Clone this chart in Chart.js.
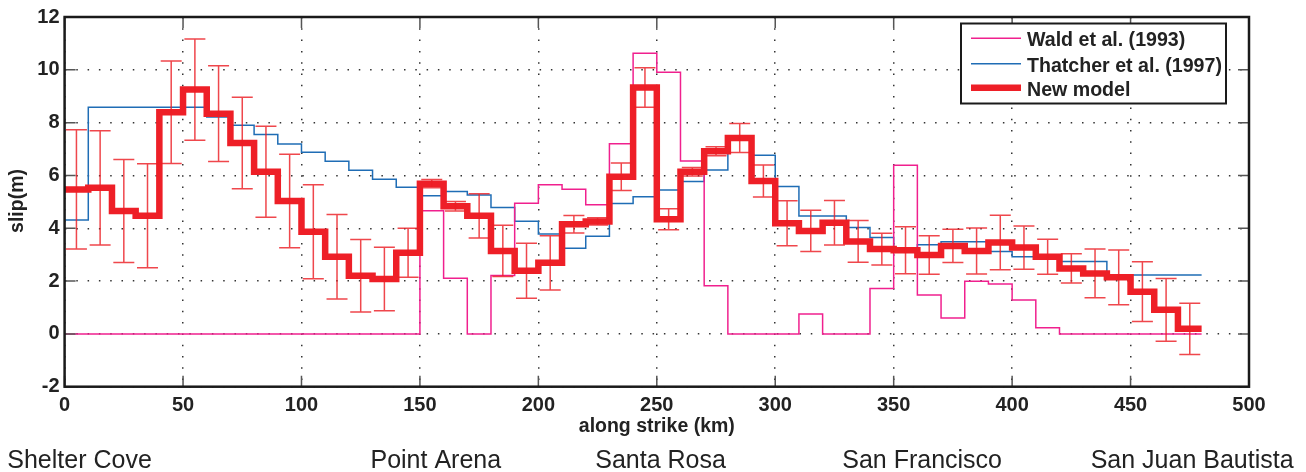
<!DOCTYPE html>
<html><head><meta charset="utf-8">
<script src="https://cdn.jsdelivr.net/npm/chart.js@4.4.0/dist/chart.umd.min.js"></script>
<style>html,body{margin:0;padding:0;background:#fff;}canvas{display:block;}</style>
</head><body>
<canvas id="c" width="1306" height="472"></canvas>
<script>
// ---- data ----
const binStartKm = [0,10,20,30,40,50,60,70,80,90,100,110,120,130,140,150,160,170,180,190,200,210,220,230,240,250,260,270,280,290,300,310,320,330,340,350,360,370,380,390,400,410,420,430,440,450,460,470];
const binEndKm = 480;
const newModel = [5.47,5.53,4.65,4.47,8.39,9.25,8.34,7.23,6.14,5.03,3.87,2.92,2.20,2.08,3.07,5.69,4.83,4.47,3.14,2.39,2.69,4.15,4.26,5.95,9.33,4.34,6.14,6.92,7.42,5.79,4.19,3.90,4.21,3.50,3.21,3.17,2.99,3.33,3.14,3.46,3.27,2.92,2.48,2.29,2.14,1.60,0.91,0.19];
const newModelErr = [2.26,2.16,1.95,1.97,1.94,1.92,1.81,1.73,1.72,1.77,1.78,1.60,1.37,1.20,0.93,0.16,0.18,0.84,0.97,1.04,1.03,0.33,0.14,0.52,0.75,0.40,0.16,0.17,0.55,0.61,0.85,0.78,0.84,0.79,0.60,0.89,0.73,0.63,0.87,1.03,0.82,0.66,0.55,0.92,1.04,1.13,1.19,0.97];
const thatcher = [4.31,8.58,8.58,8.58,8.58,8.58,8.21,7.90,7.55,7.19,6.88,6.54,6.20,5.86,5.55,5.23,5.39,5.26,4.79,4.27,3.78,3.24,3.70,4.94,5.19,5.45,5.77,6.21,7.45,6.76,5.58,4.46,4.46,4.03,3.65,3.20,3.38,3.49,3.49,3.12,2.92,2.84,2.74,2.74,2.23,2.23,2.23,2.23];
const wald = [0,0,0,0,0,0,0,0,0,0,0,0,0,0,0,4.66,2.11,0,2.21,4.95,5.65,5.48,4.89,7.20,10.63,9.91,6.55,1.82,0,0,0,0.75,0,0,1.72,6.39,1.47,0.60,1.99,1.89,1.28,0.23,0,0,0,0,0,0];
const seriesNames = ['Wald et al. (1993)', 'Thatcher et al. (1997)', 'New model'];
const xTickMin = 0, xTickMax = 500, xTickStep = 50;
const yTickMin = -2, yTickMax = 12, yTickStep = 2;
const cityNames = ['Shelter Cove', 'Point Arena', 'Santa Rosa', 'San Francisco', 'San Juan Bautista'];
const cityKm = [6.3, 156.7, 251.6, 362, 476];
const xTitle = 'along strike (km)';
const yTitle = 'slip(m)';

// ---- helpers ----
function stepPoints(vals) {
  const pts = binStartKm.map((x, i) => ({ x: x, y: vals[i] }));
  pts.push({ x: binEndKm, y: vals[vals.length - 1] });
  return pts;
}
const binEnds = binStartKm.map((s, i) => i + 1 < binStartKm.length ? binStartKm[i + 1] : binEndKm);

const COL_WALD = '#f0208e';
const COL_THAT = '#1f6db5';
const COL_NEW = '#ee1f27';
const FONT = '"Liberation Sans", Arial, Helvetica, sans-serif';

const decor = {
  id: 'decor',
  afterDatasetsDraw(chart) {
    const { ctx, scales: { x, y } } = chart;
    ctx.save();
    ctx.strokeStyle = 'rgba(236,30,36,0.82)';
    ctx.lineWidth = 1.5;
    const cap = 10.5;
    binStartKm.forEach((s, i) => {
      const cx = x.getPixelForValue((s + binEnds[i]) / 2);
      const yt = y.getPixelForValue(newModel[i] + newModelErr[i]);
      const yb = y.getPixelForValue(newModel[i] - newModelErr[i]);
      ctx.beginPath();
      ctx.moveTo(cx, yt); ctx.lineTo(cx, yb);
      ctx.moveTo(cx - cap, yt); ctx.lineTo(cx + cap, yt);
      ctx.moveTo(cx - cap, yb); ctx.lineTo(cx + cap, yb);
      ctx.stroke();
    });
    ctx.restore();
  },
  afterDraw(chart) {
    const { ctx, chartArea: a, scales: { x, y } } = chart;
    ctx.save();
    // inward ticks
    ctx.strokeStyle = '#555';
    ctx.lineWidth = 1.5;
    const tl = 11;
    ctx.beginPath();
    for (let v = xTickMin; v <= xTickMax; v += xTickStep) {
      const px = x.getPixelForValue(v);
      ctx.moveTo(px, a.bottom); ctx.lineTo(px, a.bottom - tl);
      ctx.moveTo(px, a.top); ctx.lineTo(px, a.top + tl);
    }
    for (let v = yTickMin; v <= yTickMax; v += yTickStep) {
      const py = y.getPixelForValue(v);
      ctx.moveTo(a.left, py); ctx.lineTo(a.left + tl, py);
      ctx.moveTo(a.right, py); ctx.lineTo(a.right - tl, py);
    }
    ctx.stroke();
    // box
    ctx.strokeStyle = '#1a1a1a';
    ctx.lineWidth = 2.5;
    ctx.strokeRect(a.left, a.top, a.right - a.left, a.bottom - a.top);

    // legend
    const lx = 961, ly = 23.5, lw = 265, lh = 80;
    ctx.fillStyle = '#fff';
    ctx.fillRect(lx, ly, lw, lh);
    ctx.strokeStyle = '#1a1a1a';
    ctx.lineWidth = 2;
    ctx.strokeRect(lx, ly, lw, lh);
    const ds = chart.data.datasets;
    const lineY = [38.3, 63.8, 87.8];
    const baseY = [45.7, 71.5, 95.8];
    ctx.font = 'bold 19.6px ' + FONT;
    ctx.textBaseline = 'alphabetic';
    ctx.textAlign = 'left';
    [0, 1, 2].forEach((di, r) => {
      const d = ds[di];
      ctx.strokeStyle = d.borderColor;
      ctx.lineWidth = d.borderWidth;
      ctx.beginPath();
      ctx.moveTo(971, lineY[r]); ctx.lineTo(1021, lineY[r]);
      ctx.stroke();
      ctx.fillStyle = '#222';
      ctx.fillText(d.label, 1027, baseY[r]);
    });

    // axis titles
    ctx.fillStyle = '#222';
    ctx.font = 'bold 19.5px ' + FONT;
    ctx.textAlign = 'center';
    ctx.textBaseline = 'middle';
    ctx.fillText(xTitle, (a.left + a.right) / 2, 427);
    ctx.save();
    ctx.translate(18, 201);
    ctx.rotate(-Math.PI / 2);
    ctx.fillText(yTitle, 0, 0);
    ctx.restore();

    // city labels
    ctx.font = '25px ' + FONT;
    ctx.textBaseline = 'alphabetic';
    ctx.textAlign = 'center';
    ctx.fillStyle = '#222';
    cityNames.forEach((n, i) => {
      ctx.fillText(n, x.getPixelForValue(cityKm[i]), 467.5);
    });
    ctx.restore();
  }
};

new Chart(document.getElementById('c'), {
  type: 'line',
  data: {
    datasets: [
      { label: seriesNames[0], data: stepPoints(wald), borderColor: COL_WALD, borderWidth: 1.5, stepped: 'before', order: 2, pointRadius: 0, fill: false },
      { label: seriesNames[1], data: stepPoints(thatcher), borderColor: COL_THAT, borderWidth: 1.5, stepped: 'before', order: 3, pointRadius: 0, fill: false },
      { label: seriesNames[2], data: stepPoints(newModel), borderColor: COL_NEW, borderWidth: 6.5, stepped: 'before', order: 1, pointRadius: 0, fill: false, borderJoinStyle: 'miter' }
    ]
  },
  options: {
    responsive: false,
    animation: false,
    devicePixelRatio: 1,
    layout: { padding: { left: 0, top: 15.7, right: 57, bottom: 0 } },
    plugins: { legend: { display: false }, tooltip: { enabled: false } },
    elements: { point: { radius: 0 } },
    scales: {
      x: {
        type: 'linear', min: xTickMin, max: xTickMax,
        ticks: { stepSize: xTickStep, autoSkip: false, maxRotation: 0, padding: 7, color: '#222', font: { family: FONT, size: 20, weight: 'bold' } },
        grid: { color: '#333', lineWidth: 1.5, drawTicks: false },
        border: { display: false, dash: [1.5, 9.8] },
        afterFit: s => { s.height = 85.3; }
      },
      y: {
        type: 'linear', min: yTickMin, max: yTickMax,
        ticks: { stepSize: yTickStep, autoSkip: false, padding: 5, color: '#222', font: { family: FONT, size: 20, weight: 'bold' } },
        grid: { color: '#333', lineWidth: 1.5, drawTicks: false },
        border: { display: false, dash: [1.5, 9.8] },
        afterFit: s => { s.width = 64.6; }
      }
    }
  },
  plugins: [decor]
});
</script>
</body></html>
